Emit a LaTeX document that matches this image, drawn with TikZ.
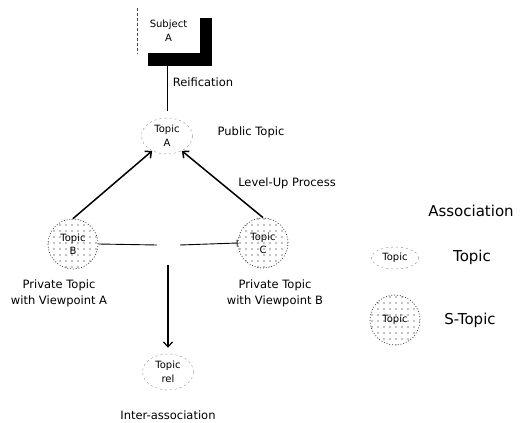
\documentclass[tikz,border=0pt]{standalone}
\usepackage{fontspec}
\setmainfont{DejaVu Sans}
\usepackage{tikz}
\usepackage{xcolor}
\usetikzlibrary{shapes}
\usetikzlibrary{positioning}
\usetikzlibrary{arrows.meta,patterns.meta}

\begin{document}
\begin{tikzpicture}[x=1pt,y=-1pt]
        \tikzstyle{topic}=[ellipse,draw=black!45,dash pattern=on 2pt off 3pt,minimum width=51pt,minimum height=36pt,inner sep=0pt,align=center,font=\fontsize{10}{14}\selectfont]
        \tikzstyle{stopic}=[circle,draw=black!80,dotted,thick,pattern={Dots[distance=6pt,radius=0.7pt]},minimum size=50pt,inner sep=0pt,align=center,font=\fontsize{10}{13}\selectfont]
        \tikzstyle{subject}=[minimum width=63pt,minimum height=45pt,inner sep=0pt,align=center,font=\fontsize{10}{14}\selectfont]
        \tikzstyle{lbl}=[align=center,font=\fontsize{11.5}{16}\selectfont]
        \tikzstyle{legend}=[font=\fontsize{15}{18}\selectfont]
        \tikzstyle{edge}=[draw, line width=1.5pt]
        \tikzstyle{assoc}=[draw, line width=0.9pt]
        \tikzstyle{lvlup}=[-{Straight Barb[length=5pt,width=9pt]}]
        \useasboundingbox (0,0) rectangle (531,423);
       \begin{scope}
         % subject and its reification
         \node [subject] (subj) at (168.5,30.5) {Subject\\A};
         \draw [densely dashed,thin,black!70] (subj.north west) -- (subj.south west);
         \fill ([yshift=-10pt]subj.north east) rectangle ([xshift=12pt,yshift=-13pt]subj.south east);
         \fill ([xshift=11pt]subj.south west) rectangle ([yshift=-13pt]subj.south east);

         \node [topic] (ta) at (167,136) {Topic\\A};
         \node [stopic] (tb) at (73,244) {Topic\\B};
         \node [stopic] (tc) at (263,243) {Topic\\C};
         \node [topic] (trel) at (168,372) {Topic\\rel};

         \node [lbl] (reif) at (203,82) {Reification};
         \node [lbl] (pub) at (251,132) {Public Topic};
         \node [lbl] (lvl) at (287,183) {Level-Up Process};
         \node [lbl] (pva) at (59,293) {Private Topic\\with Viewpoint A};
         \node [lbl] (pvb) at (275,293) {Private Topic\\with Viewpoint B};
         \node [lbl] (inter) at (168,415) {Inter-association};

         \draw [line width=1pt,shorten >=7pt] (ta.north |- subj.south) -- (ta.north);
         \draw [edge,lvlup] (tb.north) -- (ta.225);
         \draw [edge,lvlup] (tc.north) -- (ta.-45);

         % inter-association
         \coordinate (al) at (157,245);
         \coordinate (ar) at (180,245);
         \coordinate (asrc) at (168,265);
         \draw [assoc] (tb.east) -- (al);
         \draw [assoc,-{Bar[width=7pt]}] (ar) -- (tc.west);
         \draw [line width=1.2pt,lvlup,shorten >=6pt] (asrc) -- (trel.north);
        \end{scope}
       \begin{scope}
         % legend
         \node [legend] (lasc) at (471,211) {Association};
         \node [topic,minimum width=47pt,minimum height=22pt] (ltopic) at (395,258) {Topic};
         \node [legend] (ltop) at (472,257) {Topic};
         \node [stopic] (lstopic) at (395,320) {Topic};
         \node [legend] (lstop) at (470,320) {S-Topic};
        \end{scope}
      \end{tikzpicture}
\end{document}
